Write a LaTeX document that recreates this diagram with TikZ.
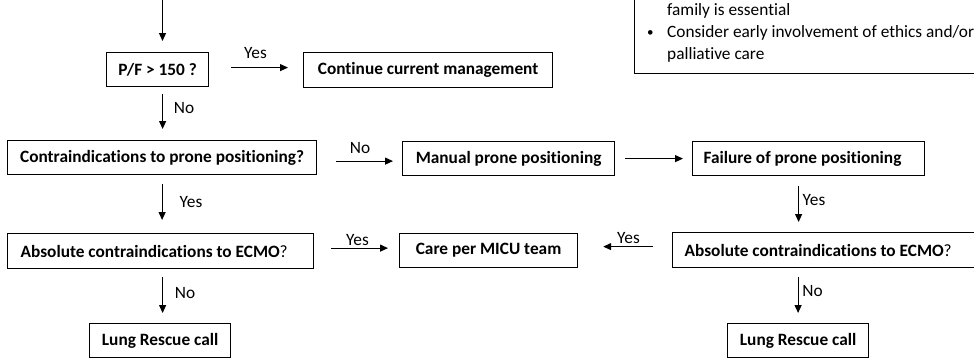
\documentclass[tikz,border=0pt]{standalone}
\usepackage{fontspec}
\setmainfont{Carlito}[Ligatures=NoCommon]
\usetikzlibrary{arrows.meta,calc}
\newcommand\fs{\fontsize{17.3pt}{21pt}\selectfont}
\tikzset{
  box/.style={draw, line width=1.2pt, font=\fs\bfseries, inner sep=0pt, anchor=north west},
  lbox/.style={box, align=flush left, inner xsep=#1},
  arr/.style={-{Triangle[length=8pt,width=7pt]}, line width=1.2pt},
  lbl/.style={font=\fs, inner sep=0pt, anchor=base},
  ntxt/.style={font=\fs, inner sep=0pt, anchor=base west}
}
\begin{document}
\begin{tikzpicture}[x=1pt,y=-1pt]
\useasboundingbox (0,0) rectangle (974,360);
\clip (0,0) rectangle (974,360);

% note box (partly outside the picture)
\node[draw, line width=1.2pt, inner sep=0pt, anchor=south west, minimum width=400pt, minimum height=150pt] (note) at (634,74) {};
\node[ntxt] (n1) at (667,15) {family is essential};
\node[ntxt, font=\fontsize{13pt}{15pt}\selectfont] (nb) at (647,36) {•};
\node[ntxt] (n2) at (667,37) {Consider early involvement of ethics and/or};
\node[ntxt] (n3) at (667,59) {palliative care};

% boxes
\node[box, minimum width=102pt, minimum height=34pt] (pf) at (106,52) {P/F > 150 ?};
\node[box, minimum width=249pt, minimum height=35pt] (cont) at (303,52) {Continue current management};
\node[box, minimum width=309pt, minimum height=34pt] (contra) at (7,140) {Contraindications to prone positioning?};
\node[box, minimum width=212pt, minimum height=34pt] (manual) at (402,141) {Manual prone positioning};
\node[lbox=11pt, text width=210pt, minimum height=34pt] (fail) at (692,141) {Failure of prone positioning};
\node[lbox=13pt, text width=280pt, minimum height=35pt] (abs1) at (7,233) {Absolute contraindications to ECMO{\mdseries ?}};
\node[box, minimum width=178pt, minimum height=34pt] (care) at (399,233) {Care per MICU team};
\node[lbox=12pt, text width=306pt, minimum height=35pt] (abs2) at (672,232) {Absolute contraindications to ECMO{\mdseries ?}};
\node[box, minimum width=141pt, minimum height=34pt] (lung1) at (89,323) {Lung Rescue call};
\node[box, minimum width=141pt, minimum height=34pt] (lung2) at (727,323) {Lung Rescue call};

% connectors
\coordinate (start) at (162.5,0);
\draw[arr, shorten >=11pt] (start) -- (start |- pf.north);
\draw[arr, shorten <=7pt, shorten >=11pt] ([xshift=5pt]pf.south) -- ([xshift=5pt]pf.south |- contra.north);
\draw[arr, shorten <=22pt, shorten >=15pt] ([yshift=2pt]pf.east) -- ([yshift=2pt]pf.east -| cont.west);
\draw[arr, shorten <=9pt, shorten >=13pt] (contra.south) -- (contra.south |- abs1.north);
\draw[arr, shorten <=19pt, shorten >=9pt] ([yshift=-3.5pt]contra.east) -- ([yshift=-3.5pt]contra.east -| manual.west);
\draw[arr, shorten <=10pt, shorten >=9pt] (manual.east) -- (manual.east -| fail.west);
\draw[arr, shorten <=10pt, shorten >=10pt] ([xshift=-10pt]fail.south) -- ([xshift=-10pt]fail.south |- abs2.north);
\draw[arr, shorten <=19pt, shorten >=25pt] ([yshift=3.5pt]abs2.west) -- ([yshift=3.5pt]abs2.west -| care.east);
\draw[arr, shorten <=17pt, shorten >=11pt] ([yshift=3pt]abs1.east) -- ([yshift=3pt]abs1.east -| care.west);
\draw[arr, shorten <=8pt, shorten >=10pt] ([xshift=2pt]abs1.south) -- ([xshift=2pt]abs1.south |- lung1.north);
\draw[arr, shorten <=9pt, shorten >=10pt] (lung2.north |- abs2.south) -- (lung2.north);

% labels
\node[lbl] (l1) at (255.5,58) {Yes};
\node[lbl] (l2) at (184,113) {No};
\node[lbl] (l3) at (191,207) {Yes};
\node[lbl] (l4) at (360,153) {No};
\node[lbl] (l5) at (814,205) {Yes};
\node[lbl] (l6) at (628.5,243) {Yes};
\node[lbl] (l7) at (357.5,245) {Yes};
\node[lbl] (l8) at (185,298) {No};
\node[lbl] (l9) at (812.5,296) {No};
\end{tikzpicture}
\end{document}
